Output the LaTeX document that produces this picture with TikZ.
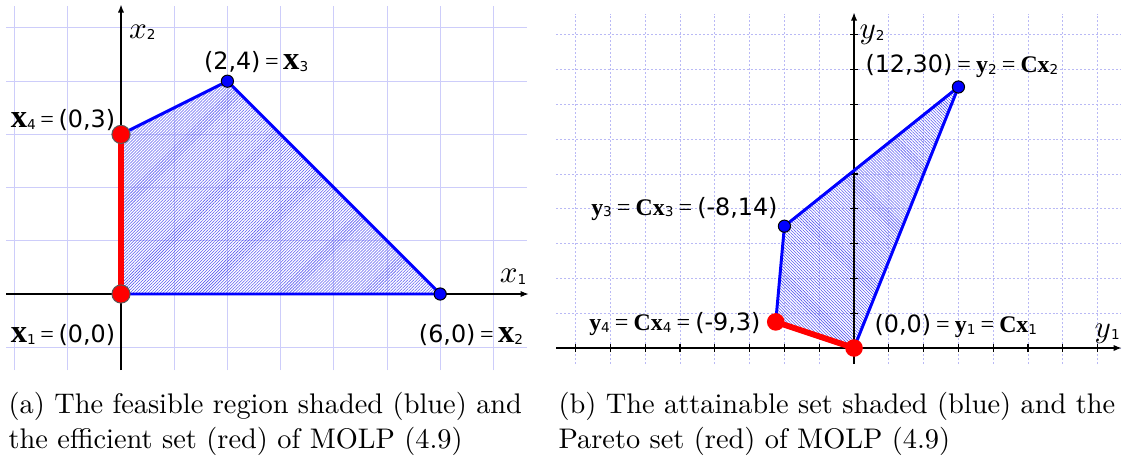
\documentclass[tikz,border=0pt]{standalone}
\usepackage{fontspec}
\usetikzlibrary{arrows.meta,patterns.meta}
\newfontfamily\lab{DejaVu Sans}
\newfontfamily\tms{Liberation Serif}
\definecolor{gridc}{RGB}{205,205,250}
\definecolor{gridr}{RGB}{185,185,245}
\definecolor{hatchc}{RGB}{90,90,240}
\newcommand\sbs[1]{\raisebox{-0.6pt}{\lab\fontsize{4.8}{5}\selectfont #1}}
\newcommand\num[1]{{\lab\fontsize{8.4}{9}\selectfont #1}}
\newcommand\eqs[1]{{\tms\fontsize{8.5}{9}\selectfont\hspace{#1}=\hspace{#1}}}
\newcommand\bxl{{\tms\bfseries\fontsize{11.5}{12}\selectfont x}}
\newcommand\brt[1]{{\tms\bfseries\fontsize{8.4}{9}\selectfont #1}}
\newcommand\axl[2]{{\fontsize{10.5}{11}\selectfont$#1$}\sbs{#2}}
\tikzset{
  axisline/.style={black, line width=0.4pt, -{Latex[length=2.8pt,width=2.2pt]}},
  blueedge/.style={blue, line width=1.05pt, line join=round},
  rededge/.style={red, line width=2.1pt},
  rpt/.style={circle, fill=red, draw=black!65, line width=0.35pt, minimum size=6.4pt, inner sep=0pt},
  rptb/.style={circle, fill=red, minimum size=6.2pt, inner sep=0pt},
  bpt/.style={circle, fill=blue, draw=black, line width=0.35pt, minimum size=4.3pt, inner sep=0pt},
  hatchL/.style={pattern={Lines[angle=45,distance=0.75pt,line width=0.2pt]}, pattern color=hatchc},
  hatchR/.style={pattern={Lines[angle=-45,distance=0.75pt,line width=0.2pt]}, pattern color=hatchc},
  lbl/.style={inner sep=0pt},
  captxt/.style={anchor=base west, inner sep=0pt, font=\fontsize{10}{12}\selectfont}
}
\begin{document}
\begin{tikzpicture}[x=0.3525pt,y=0.3525pt]
\useasboundingbox (0,0) rectangle (1122,456);

% ---------------- left panel ----------------
\begin{scope}[shift={(42.65pt,57.105pt)}, x=18.753pt, y=18.753pt]
  \draw[gridc, line width=0.35pt] (-2.16,-1.43) grid[step=1] (7.63,5.41);
  \coordinate (x1) at (0,0);
  \coordinate (x2) at (6,0);
  \coordinate (x3) at (2,4);
  \coordinate (x4) at (0,3);
  \fill[hatchL] (x1) -- (x2) -- (x3) -- (x4) -- cycle;
  \coordinate (xaL) at (-2.16,0);
  \coordinate (xaR) at (7.66,0);
  \coordinate (yaB) at (0,-1.43);
  \coordinate (yaT) at (0,5.44);
  \draw[axisline] (xaL) -- (xaR);
  \draw[axisline] (yaB) -- (yaT);
  \draw[blueedge] (x1) -- (x2) -- (x3) -- (x4);
  \draw[rededge] (x4) -- (x1);
  \node[rpt] (P1) at (x1) {};
  \node[rpt] (P4) at (x4) {};
  \node[bpt] (P2) at (x2) {};
  \node[bpt] (P3) at (x3) {};
  \node[lbl] (ax1) at (7.37,0.32) {\axl{x}{1}};
  \node[lbl] (ax2) at (0.40,4.92) {\axl{x}{2}};
  \node[lbl] (L3) at (2.54,4.36) {\num{(2,4)}\eqs{1.6pt}\bxl\sbs{3}};
  \node[lbl] (L4) at (-1.09,3.27) {\bxl\sbs{4}\eqs{1.6pt}\num{(0,3)}};
  \node[lbl] (L1) at (-1.09,-0.77) {\bxl\sbs{1}\eqs{1.6pt}\num{(0,0)}};
  \node[lbl] (L2) at (6.58,-0.77) {\num{(6,0)}\eqs{1.6pt}\bxl\sbs{2}};
\end{scope}

% ---------------- right panel ----------------
\begin{scope}[shift={(301.04pt,38.07pt)}, x=3.0668pt, y=3.0668pt]
  \draw[gridr, line width=0.35pt, dash pattern=on 0.7pt off 0.7pt] (-34.25,-1.84) grid[step=4] (30.6,38.4);
  \coordinate (y1) at (0,0);
  \coordinate (y2) at (12,30);
  \coordinate (y3) at (-8,14);
  \coordinate (y4) at (-9,3);
  \fill[hatchR] (y1) -- (y2) -- (y3) -- (y4) -- cycle;
  \coordinate (uaL) at (-34.25,0);
  \coordinate (uaR) at (30.75,0);
  \coordinate (vaB) at (0,-1.84);
  \coordinate (vaT) at (0,38.55);
  \draw[axisline] (uaL) -- (uaR);
  \draw[axisline] (vaB) -- (vaT);
  \foreach \t in {-32,-28,...,-4,4,8,...,28} \draw[line width=0.4pt] (\t,-0.46) -- (\t,0.46);
  \foreach \t in {4,8,...,36} \draw[line width=0.4pt] (-0.46,\t) -- (0.46,\t);
  \draw[blueedge] (y1) -- (y2) -- (y3) -- (y4);
  \draw[rededge] (y4) -- (y1);
  \node[rptb] (Q1) at (y1) {};
  \node[rptb] (Q4) at (y4) {};
  \node[bpt] (Q2) at (y2) {};
  \node[bpt] (Q3) at (y3) {};
  \node[lbl] (ay1) at (29.1,1.6) {\axl{y}{1}};
  \node[lbl] (ay2) at (2.07,36.0) {\axl{y}{2}};
  \node[lbl] (M2) at (12.4,32.4) {\num{(12,30)}\eqs{1.8pt}\brt{y}\sbs{2}\eqs{1.8pt}\brt{Cx}\sbs{2}};
  \node[lbl] (M3) at (-19.5,16.0) {\brt{y}\sbs{3}\eqs{1.8pt}\brt{Cx}\sbs{3}\eqs{1.8pt}\num{(-8,14)}};
  \node[lbl] (M4) at (-20.6,2.76) {\brt{y}\sbs{4}\eqs{1.8pt}\brt{Cx}\sbs{4}\eqs{1.8pt}\num{(-9,3)}};
  \node[lbl] (M1) at (11.7,2.5) {\num{(0,0)}\eqs{1.8pt}\brt{y}\sbs{1}\eqs{1.8pt}\brt{Cx}\sbs{1}};
\end{scope}

% ---------------- captions ----------------
\node[captxt] (ca1) at (8,42.4) {(a) The feasible region shaded (blue) and};
\node[captxt] (ca2) at (8,7.4) {the efficient set (red) of MOLP (4.9)};
\node[captxt] (cb1) at (558,42.4) {(b) The attainable set shaded (blue) and the};
\node[captxt] (cb2) at (558,7.4) {Pareto set (red) of MOLP (4.9)};
\end{tikzpicture}
\end{document}
